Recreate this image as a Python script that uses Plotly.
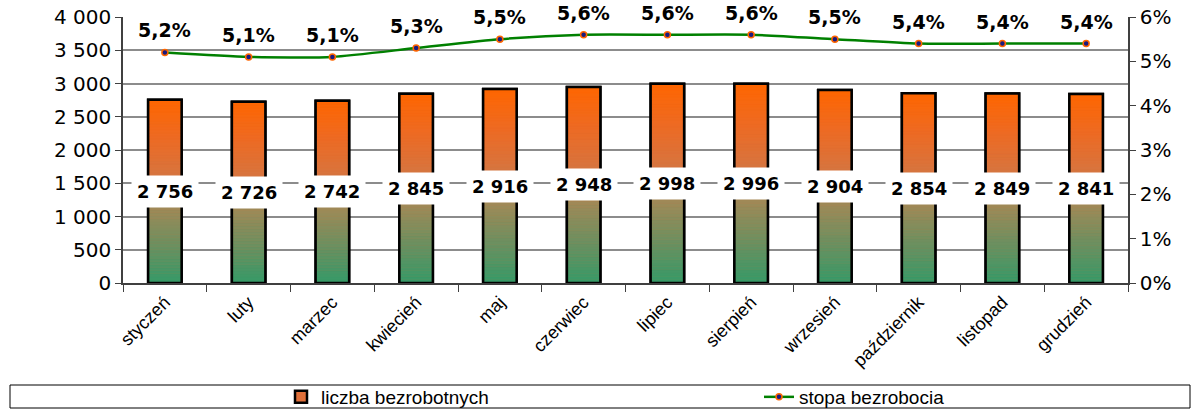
import plotly.graph_objects as go
from plotly.colors import sample_colorscale

months = ["styczeń", "luty", "marzec", "kwiecień", "maj", "czerwiec", "lipiec",
          "sierpień", "wrzesień", "październik", "listopad", "grudzień"]
unemployed = [2756, 2726, 2742, 2845, 2916, 2948, 2998, 2996, 2904, 2854, 2849, 2841]
rate = [0.052, 0.051, 0.051, 0.053, 0.055, 0.056, 0.056, 0.056, 0.055, 0.054, 0.054, 0.054]

grad = [[0.0, "#359a68"], [0.2, "#6a9060"], [0.4, "#9c8a58"], [0.5, "#c07c48"],
        [0.6, "#d8743e"], [0.8, "#ee6a22"], [1.0, "#ff6600"]]

fig = go.Figure()
BW = 0.4
# base bar (legend entry)
fig.add_trace(go.Bar(x=months, y=unemployed, width=BW, name="liczba bezrobotnych",
                     marker=dict(color="#e0703a", line=dict(color="black", width=2.5)),
                     hoverinfo="skip", legend="legend"))
N = 60
for k in range(N):
    c = sample_colorscale(grad, (k + 0.5) / N)[0]
    fig.add_trace(go.Bar(x=months, y=[v / N for v in unemployed],
                         base=[v * k / N for v in unemployed], width=BW,
                         marker=dict(color=c, line=dict(color=c, width=0.6)),
                         showlegend=False, hoverinfo="skip"))
# outline on top
fig.add_trace(go.Bar(x=months, y=unemployed, width=BW, showlegend=False,
                     marker=dict(color="rgba(0,0,0,0)", line=dict(color="black", width=2.5)),
                     hoverinfo="skip"))

fig.add_trace(go.Scatter(x=months, y=rate, yaxis="y2", name="stopa bezrobocia",
                         mode="lines+markers", line=dict(color="#008000", width=2.5, shape="spline", smoothing=0.6),
                         marker=dict(color="#1a1a80", size=6, line=dict(color="#ff6600", width=1.5)),
                         legend="legend2"))

ann = []
for m, v in zip(months, unemployed):
    ann.append(dict(x=m, y=v / 2, xref="x", yref="y", text=f"{v:,}".replace(",", " "),
                    showarrow=False, bgcolor="white", borderpad=5,
                    font=dict(family="DejaVu Sans", size=18, color="black", weight="bold")))
for m, r in zip(months, rate):
    ann.append(dict(x=m, y=r, xref="x", yref="y2", text=f"{r*100:.1f}%".replace(".", ","),
                    showarrow=False, yshift=22,
                    font=dict(family="DejaVu Sans", size=19, color="black", weight="bold")))

legfont = dict(family="Liberation Sans", size=19, color="black")
fig.update_layout(
    width=1192, height=412,
    margin=dict(l=123, r=64, t=17, b=129, autoexpand=False),
    paper_bgcolor="white", plot_bgcolor="white",
    barmode="overlay", bargap=0.6,
    separators=", ",
    annotations=ann,
    showlegend=True,
    legend=dict(orientation="h", x=(281 - 123) / 1005, xanchor="left", y=(283 - 397) / 266, yanchor="middle",
                font=legfont, bgcolor="rgba(0,0,0,0)"),
    legend2=dict(orientation="h", x=(759 - 123) / 1005, xanchor="left", y=(283 - 397) / 266, yanchor="middle",
                 font=legfont, bgcolor="rgba(0,0,0,0)"),
    shapes=[dict(type="rect", xref="paper", yref="paper",
                 x0=(10 - 123) / 1005, x1=(1190 - 123) / 1005,
                 y0=(283 - 408) / 266, y1=(283 - 385) / 266,
                 line=dict(color="black", width=1), fillcolor="rgba(0,0,0,0)", layer="below")],
    xaxis=dict(type="category", range=[-0.5, len(months) - 0.5], tickangle=-45,
               tickson="boundaries", ticks="outside",
               ticklen=7, tickcolor="#404040", showline=True, linecolor="#404040", linewidth=1.5,
               showgrid=False,
               tickfont=dict(family="Liberation Sans", size=18, color="black")),
    yaxis=dict(range=[0, 4000], dtick=500, tickformat=",", showgrid=True,
               gridcolor="#8c8c8c", gridwidth=1.5, showline=True, linecolor="#404040",
               linewidth=1.5, ticks="outside", ticklen=6, tickcolor="#404040",
               tickfont=dict(family="DejaVu Sans", size=20, color="black"), zeroline=False),
    yaxis2=dict(range=[0, 0.06], dtick=0.01, tickformat=".0%", overlaying="y", side="right",
                showgrid=False, showline=True, linecolor="#404040", linewidth=1.5,
                ticks="outside", ticklen=6, tickcolor="#404040", zeroline=False,
                tickfont=dict(family="DejaVu Sans", size=20, color="black")),
)

fig.write_html("out.html", config={"displayModeBar": False},
               post_script="document.body.style.margin='0';")
